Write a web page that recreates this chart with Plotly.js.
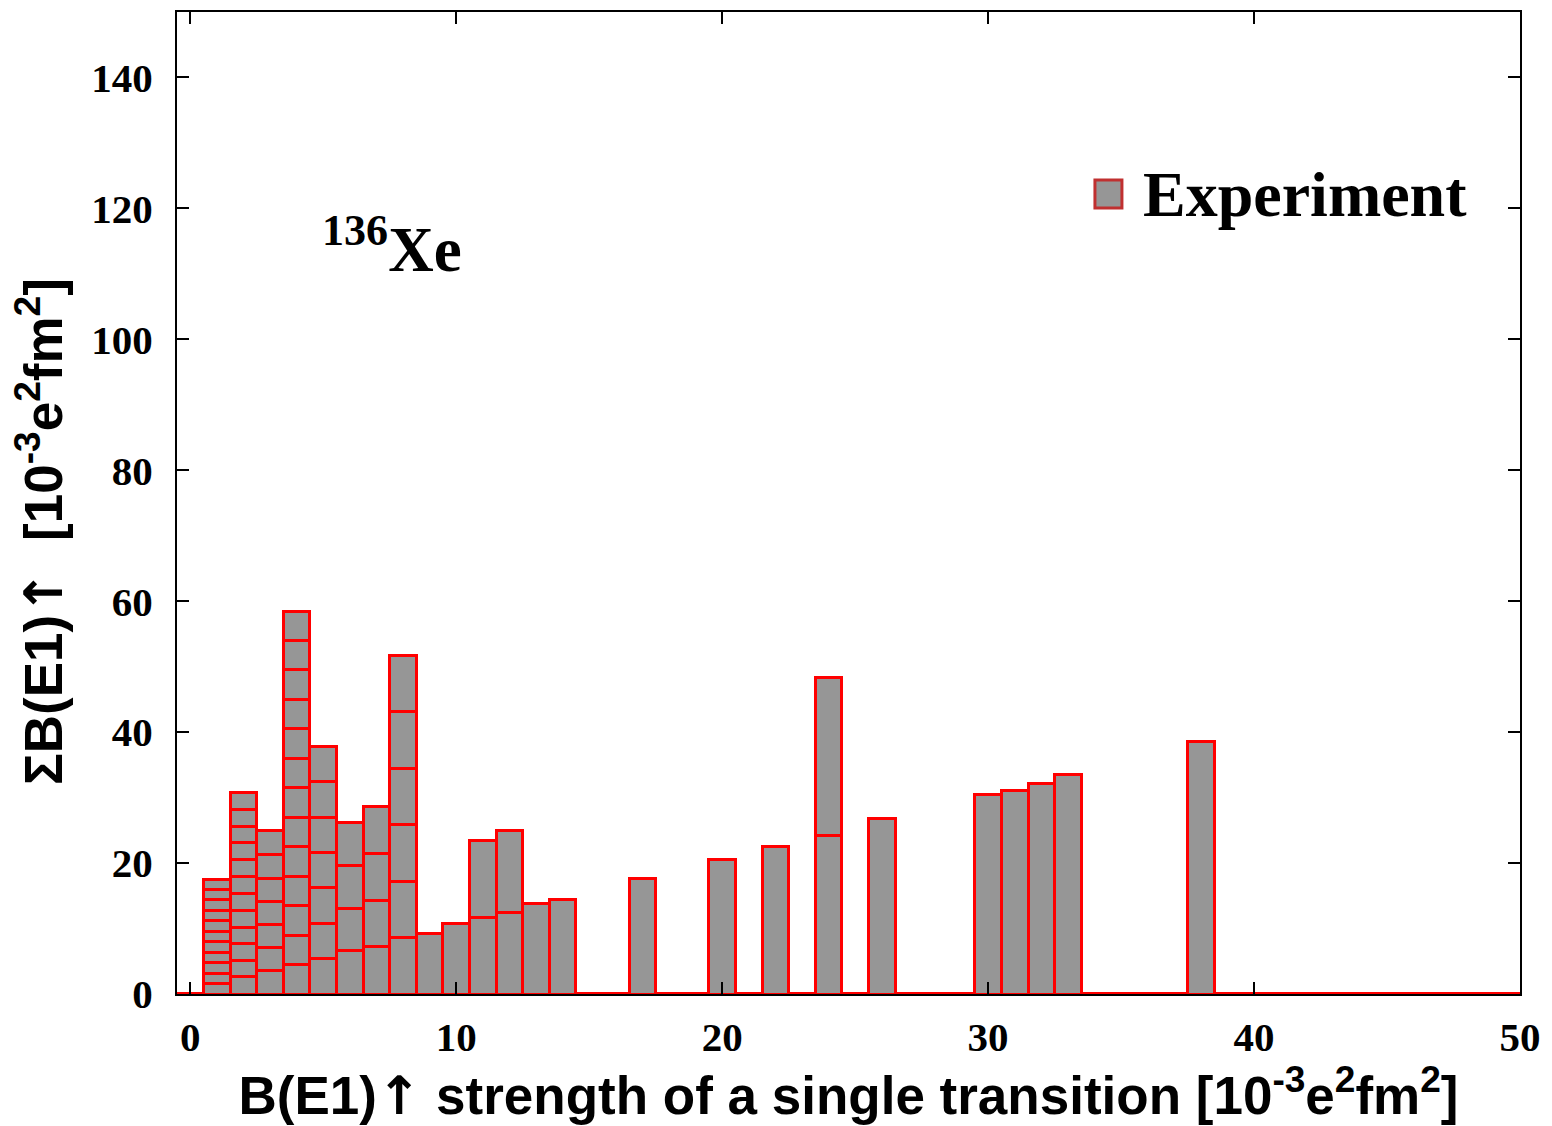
<!DOCTYPE html>
<html><head><meta charset="utf-8">
<script src="https://cdn.plot.ly/plotly-3.0.1.min.js"></script>
<style>html,body{margin:0;padding:0;background:#fff;} #chart{width:1552px;height:1126px;}</style>
</head><body><div id="chart"></div>
<script>
// Bin centres (B(E1) strength of a single transition, 10^-3 e^2 fm^2)
const binCenters = [1, 2, 3, 4, 5, 6, 7, 8, 9, 10, 11, 12, 13, 14, 17, 20, 22, 24, 26, 30, 31, 32, 33, 38];
// Individual transition strengths stacked in each bin
const transitionStrengths = [
  [1.6, 1.6, 1.6, 1.6, 1.6, 1.6, 1.6, 1.6, 1.6, 1.6, 1.5],
  [2.6, 2.5, 2.6, 2.5, 2.6, 2.6, 2.5, 2.6, 2.6, 2.5, 2.6, 2.6],
  [3.6, 3.5, 3.5, 3.6, 3.5, 3.6, 3.6],
  [4.5, 4.5, 4.5, 4.5, 4.5, 4.5, 4.5, 4.5, 4.5, 4.5, 4.5, 4.5, 4.4],
  [5.4, 5.4, 5.4, 5.4, 5.4, 5.4, 5.4],
  [6.6, 6.5, 6.6, 6.5],
  [7.2, 7.1, 7.2, 7.1],
  [8.6, 8.6, 8.7, 8.6, 8.6, 8.6],
  [9.2],
  [10.7],
  [11.7, 11.7],
  [12.5, 12.5],
  [13.9],
  [14.5],
  [17.7],
  [20.5],
  [22.5],
  [24.2, 24.2],
  [26.8],
  [30.4],
  [31.1],
  [32.2],
  [33.6],
  [38.6]
];
const xTickValues = [0, 10, 20, 30, 40, 50];
const yTickValues = [0, 20, 40, 60, 80, 100, 120, 140];
const seriesName = 'Experiment';
const nucleusLabel = '<sup>136</sup>Xe';
const arrowUp = '<span style="font-family:DejaVu Sans">\u2191</span>';
const xTitle = 'B(E1)' + arrowUp + ' strength of a single transition [10<sup>-3</sup>e<sup>2</sup>fm<sup>2</sup>]';
const yTitle = '\u03a3B(E1)' + arrowUp + '  [10<sup>-3</sup>e<sup>2</sup>fm<sup>2</sup>]';
const xRange = [-0.5, 50];
const yRange = [0, 150];
const binWidth = 1;

const fillGrey = '#969696';
const edgeRed = '#ff0000';

const maxDepth = Math.max(...transitionStrengths.map(s => s.length));
const traces = [];
for (let k = 0; k < maxDepth; k++) {
  const xs = [], ys = [];
  binCenters.forEach((c, i) => {
    if (transitionStrengths[i].length > k) { xs.push(c); ys.push(transitionStrengths[i][k]); }
  });
  traces.push({
    type: 'bar', x: xs, y: ys, width: xs.map(() => binWidth),
    name: seriesName, legendgroup: 'exp', showlegend: false,
    marker: { color: fillGrey, line: { color: edgeRed, width: 3 } },
    hovertemplate: '%{x}: %{y}<extra></extra>'
  });
}

const serifBold = { family: 'Liberation Serif, Times New Roman, serif', weight: 'bold', color: '#000' };
const sansBold = { family: 'Liberation Sans, Arial, sans-serif', weight: 'bold', color: '#000' };

const axisCommon = {
  ticks: 'inside', ticklen: 12, tickwidth: 2, tickcolor: '#000',
  showline: true, linecolor: '#000', linewidth: 2, mirror: 'ticks',
  showgrid: false
};

const layout = {
  width: 1552, height: 1126,
  margin: { l: 177, r: 32, t: 12, b: 132 },
  paper_bgcolor: '#fff', plot_bgcolor: '#fff',
  barmode: 'stack', bargap: 0,
  showlegend: false,
  xaxis: Object.assign({}, axisCommon, {
    range: xRange, tickvals: xTickValues, zeroline: false,
    tickfont: Object.assign({ size: 41 }, serifBold), ticklabelstandoff: 6,
    title: { text: xTitle, font: Object.assign({ size: 53 }, sansBold), standoff: 6 }
  }),
  yaxis: Object.assign({}, axisCommon, {
    range: yRange, tickvals: yTickValues,
    zeroline: true, zerolinecolor: edgeRed, zerolinewidth: 4,
    tickfont: Object.assign({ size: 41 }, serifBold), ticklabelstandoff: 14
  }),
  shapes: [{
    type: 'rect', xref: 'paper', yref: 'paper',
    x0: 0.6835, x1: 0.7036, y0: 0.8004, y1: 0.8289,
    fillcolor: fillGrey, line: { color: '#c03030', width: 3 }
  }],
  annotations: [
    { xref: 'paper', yref: 'paper', x: -0.102, y: 0.4705, xanchor: 'center', yanchor: 'middle',
      textangle: -90, text: yTitle, showarrow: false, font: Object.assign({ size: 53 }, sansBold) },
    { xref: 'paper', yref: 'paper', x: 0.7175, y: 0.8146, xanchor: 'left', yanchor: 'middle',
      text: seriesName, showarrow: false, font: Object.assign({ size: 64 }, serifBold) },
    { xref: 'paper', yref: 'paper', x: 0.1065, y: 0.7627, xanchor: 'left', yanchor: 'middle',
      text: nucleusLabel, showarrow: false, font: Object.assign({ size: 63 }, serifBold) }
  ]
};

Plotly.newPlot('chart', traces, layout, { staticPlot: true, displayModeBar: false });
</script>
</body></html>
